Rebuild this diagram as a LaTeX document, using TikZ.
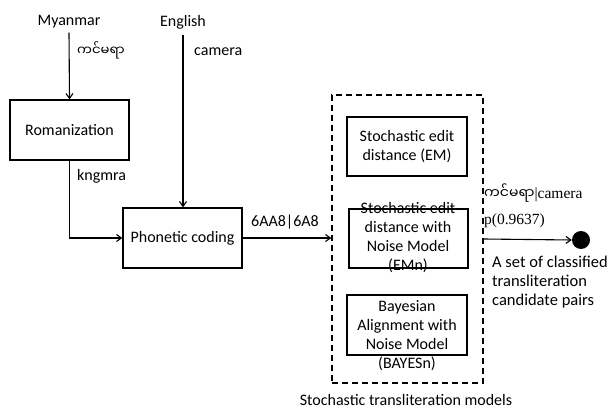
\documentclass[tikz,border=0pt]{standalone}
\usepackage{fontspec}
\setmainfont{Carlito}
\newfontfamily\mya[Script=Myanmar]{Noto Sans Myanmar UI}
\newfontfamily\tms{Liberation Serif}
\usetikzlibrary{arrows.meta}
\begin{document}
\begin{tikzpicture}[x=1pt,y=-1pt,
  every node/.style={font=\fontsize{16}{19}\selectfont, inner sep=0pt},
  box/.style={draw, line width=1.2pt, minimum width=119pt, minimum height=60pt, align=center},
  lbl/.style={anchor=west},
  conn/.style={line width=1.1pt, -{Straight Barb[length=5pt,width=7pt]}},
  dashbox/.style={draw, dashed, line width=1.2pt, dash pattern=on 6pt off 4pt, minimum width=151pt, minimum height=288pt}]
\useasboundingbox (0,0) rectangle (613,414);
\node (myan) at (69,22) {Myanmar};
\node (eng) at (183,22) {English};
\node[box] (rom) at (69.5,130) {Romanization};
\node[box] (pho) at (182.5,238) {Phonetic coding};
\node[dashbox] (dash) at (407.5,239) {};
\node[box, minimum width=120pt, minimum height=59pt] (b1) at (407,146.5) {Stochastic edit\\distance (EM)};
\node[box, minimum height=59pt] (b2) at (408.5,238.5) {};
\node[align=center] (t2) at (408,238) {Stochastic edit\\distance with\\Noise Model\\(EMn)};
\node[box, minimum width=120pt] (b3) at (407,325) {};
\node[align=center] (t3) at (407,335.5) {Bayesian\\Alignment with\\Noise Model\\(BAYESn)};
\node[fill, circle, minimum size=18pt] (dot) at (581,240) {};
\node[lbl] (mlbl) at (77,50) {\mya\fontsize{13.2}{19}\selectfont ကင်မရာ};
\node[lbl] (clbl) at (194,52) {camera};
\node[lbl] (klbl) at (77,176) {kngmra};
\node[lbl] (plbl) at (251,222) {6AA8|6A8};
\node[lbl] (olbl1) at (484,193) {{\mya\fontsize{14}{19}\selectfont ကင်မရာ}{\tms\fontsize{15.5}{19}\selectfont|camera}};
\node[lbl] (olbl2) at (484,221) {\tms\fontsize{15.5}{19}\selectfont p(0.9637)};
\node[anchor=north west, align=left, font=\fontsize{16.5}{19}\selectfont] (set) at (492,256) {A set of classified\\transliteration\\candidate pairs};
\node (cap) at (406,400) {Stochastic transliteration models};
\draw[conn] (myan.south) ++(0,4) -- (rom.north);
\draw[conn] (eng.south) ++(0,6) -- (eng.south |- pho.north);
\draw[conn] (rom.south) |- (pho.west);
\draw[conn] (pho.east) -- (pho.east -| dash.west);
\draw[conn] (dash.east) -- (dot.west);
\end{tikzpicture}
\end{document}
